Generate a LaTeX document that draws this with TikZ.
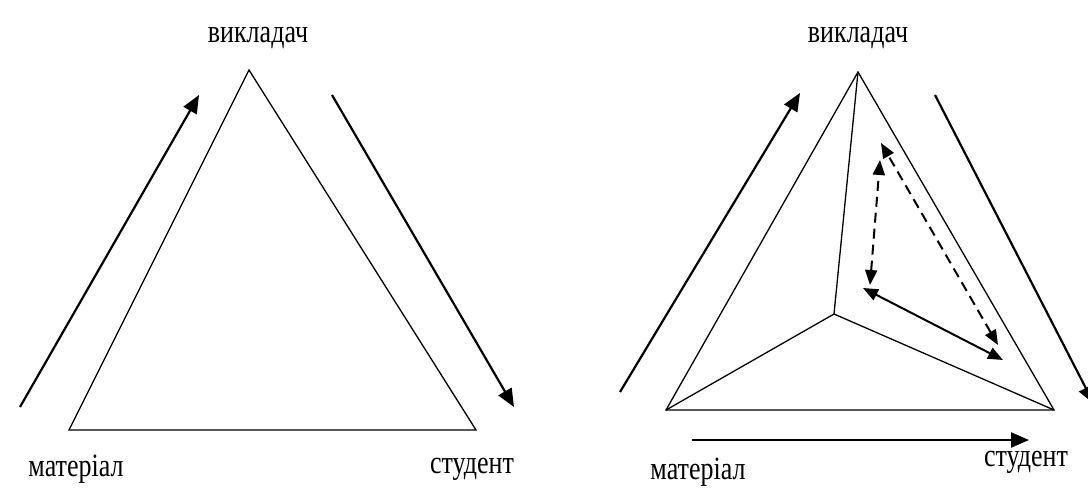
\documentclass[tikz,border=0pt]{standalone}
\usepackage{fontspec}
\setmainfont{Liberation Serif}
\usetikzlibrary{arrows.meta}
\newcommand{\tall}[1]{\scalebox{1}[1.25]{#1}}
\begin{document}
\begin{tikzpicture}[x=1pt,y=-1pt,
    edge/.style={line width=1.3pt},
    flow/.style={line width=2.2pt,-{Triangle[length=18pt,width=15pt]}},
    link/.style={line width=2pt,{Triangle[length=15pt,width=12pt]}-{Triangle[length=15pt,width=12pt]}},
    word/.style={font=\fontsize{26}{26}\selectfont,inner sep=0pt}]
    \useasboundingbox (0,0) rectangle (1088,495);

    % left triangle
    \coordinate (lt) at (249,70);
    \coordinate (ll) at (69,430);
    \coordinate (lr) at (476,430);
    \draw [edge] (lt) -- (ll) -- (lr) -- cycle;
    \node [word] (lteach) at (258,38) {\tall{викладач}};
    \node [word] (lmat) at (76,469) {\tall{матеріал}};
    \node [word] (lstud) at (472,469) {\tall{студент}};
    \coordinate (la1) at (20,407);
    \coordinate (la2) at (199,95);
    \coordinate (lb1) at (332,95);
    \coordinate (lb2) at (514,407);
    \draw [flow] (la1) -- (la2);
    \draw [flow] (lb1) -- (lb2);

    % right triangle
    \coordinate (rt) at (858,72);
    \coordinate (rl) at (666,410);
    \coordinate (rr) at (1054,410);
    \coordinate (rc) at (834,314);
    \draw [edge] (rt) -- (rl) -- (rr) -- cycle;
    \draw [edge] (rc) -- (rt);
    \draw [edge] (rc) -- (rl);
    \draw [edge] (rc) -- (rr);
    \node [word] (rteach) at (858,38) {\tall{викладач}};
    \node [word] (rmat) at (698,472) {\tall{матеріал}};
    \node [word] (rstud) at (1026,462) {\tall{студент}};
    \coordinate (ra1) at (620,392);
    \coordinate (ra2) at (800,93);
    \coordinate (rb1) at (935,95);
    \coordinate (rb2) at (1094,404);
    \coordinate (rc1) at (692,440);
    \coordinate (rc2) at (1029,440);
    \draw [flow] (ra1) -- (ra2);
    \draw [flow] (rb1) -- (rb2);
    \draw [flow] (rc1) -- (rc2);

    % links inside
    \coordinate (pa) at (880,160);
    \coordinate (pb) at (870,285);
    \coordinate (pc) at (881,143);
    \coordinate (pd) at (998,345);
    \coordinate (pe) at (863,288);
    \coordinate (pf) at (1003,360);
    \draw [link,dash pattern=on 10pt off 6pt] (pb) -- (pa);
    \draw [link,dash pattern=on 10pt off 6pt] (pd) -- (pc);
    \draw [link] (pe) -- (pf);
\end{tikzpicture}
\end{document}
